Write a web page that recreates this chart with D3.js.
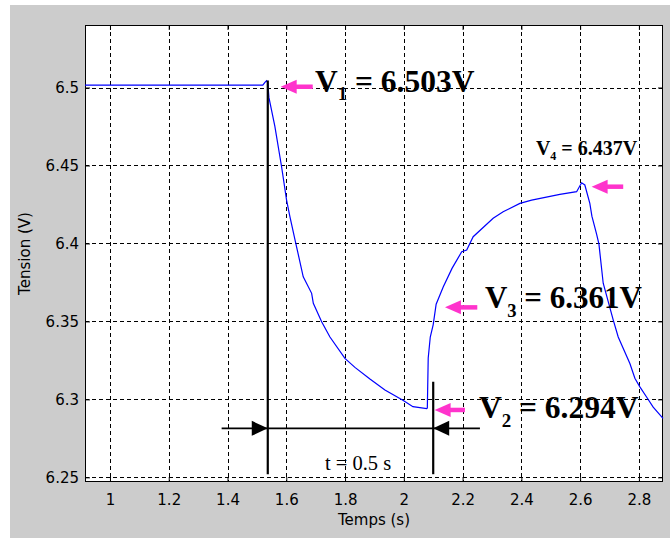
<!DOCTYPE html>
<html><head><meta charset="utf-8">
<script src="https://cdn.jsdelivr.net/npm/d3@7"></script>
<style>body{margin:0;background:#fff;}svg{display:block;}</style>
</head><body>
<script>
// ---- data ----
const timeValues = [0.915,1.520,1.528,1.533,1.537,1.541,1.561,1.584,1.601,1.6125,1.6295,1.6577,1.6863,1.692,1.7203,1.7486,1.7996,1.8336,1.8847,1.9357,1.9969,2.031,2.0776,2.080,2.083,2.090,2.100,2.110,2.134,2.164,2.197,2.214,2.236,2.304,2.338,2.395,2.435,2.531,2.588,2.605,2.616,2.633,2.640,2.656,2.664,2.6785,2.7125,2.7296,2.7693,2.7863,2.8033,2.8261,2.8486,2.882];
const tensionValues = [6.5015,6.5015,6.5035,6.5044,6.503,6.4935,6.4753,6.4492,6.4278,6.4171,6.4025,6.3786,6.368,6.3616,6.3498,6.340,6.3263,6.3205,6.313,6.306,6.2995,6.2953,6.2940,6.2945,6.3265,6.340,6.348,6.361,6.372,6.384,6.3947,6.3958,6.4043,6.4161,6.4203,6.4257,6.4278,6.4315,6.4332,6.4389,6.4375,6.4257,6.4175,6.406,6.3995,6.3745,6.351,6.340,6.323,6.3135,6.308,6.3015,6.295,6.2878];
const xTickValues = [1,1.2,1.4,1.6,1.8,2,2.2,2.4,2.6,2.8];
const yTickValues = [6.25,6.3,6.35,6.4,6.45,6.5];
const xLabel = "Temps (s)";
const yLabel = "Tension (V)";
// annotations (data coords)
const markerLines = [ {t:1.537, v0:6.5045, v1:6.252}, {t:2.100, v0:6.3113, v1:6.252} ];
const spanLine = {t0:1.380, t1:2.259, v:6.2814, a:1.537, b:2.100};
const spanText = {t:1.7315, v:6.2545, text:"t = 0.5 s"};
const pinkArrows = [
  {tip:1.581, tail:1.690, v:6.5005},
  {tip:2.639, tail:2.7466, v:6.4364},
  {tip:2.140, tail:2.250, v:6.359},
  {tip:2.1048, tail:2.208, v:6.2932}
];
const valueLabels = [
  {t:1.6975, v:6.4973, sub:"1", rest:" = 6.503V", size:31.5},
  {t:2.4495, v:6.4567, sub:"4", rest:" = 6.437V", size:20},
  {t:2.276, v:6.3583, sub:"3", rest:" = 6.361V", size:31},
  {t:2.2555, v:6.2878, sub:"2", rest:" = 6.294V", size:31.5}
];

// ---- layout ----
const W = 670, H = 539;
const L = 85, T = 25, R = 663, B = 482;
const svg = d3.select("body").append("svg").attr("width", W).attr("height", H);
svg.append("rect").attr("x",10).attr("y",5).attr("width",W-10).attr("height",533).attr("fill","#cccccc");
svg.append("rect").attr("x",L).attr("y",T).attr("width",R-L).attr("height",B-T).attr("fill","#fff");

const x = d3.scaleLinear().domain([0.915, 2.882]).range([L, R]);
const y = d3.scaleLinear().domain([6.247, 6.5401]).range([B, T]);

// grid
const g = svg.append("g");
g.selectAll(".gx").data(xTickValues).join("line")
  .attr("x1", d=>Math.round(x(d))+0.5).attr("x2", d=>Math.round(x(d))+0.5)
  .attr("y1", T).attr("y2", B).attr("stroke","#000").attr("stroke-dasharray","4,3");
g.selectAll(".gy").data(yTickValues).join("line")
  .attr("y1", d=>Math.round(y(d))+0.5).attr("y2", d=>Math.round(y(d))+0.5)
  .attr("x1", L).attr("x2", R).attr("stroke","#000").attr("stroke-dasharray","4,3");

// axes
const fontAxis = "DejaVu Sans";
const xAxis = d3.axisBottom(x).tickValues(xTickValues).tickSize(-5).tickPadding(12).tickFormat(d3.format("~g"));
const yAxis = d3.axisLeft(y).tickValues(yTickValues).tickSize(-5).tickPadding(6).tickFormat(d3.format("~g"));
const xa = svg.append("g").attr("transform",`translate(0,${B})`).call(xAxis);
const ya = svg.append("g").attr("transform",`translate(${L},0)`).call(yAxis);
// top/right ticks
svg.append("g").attr("transform",`translate(0,${T})`).call(d3.axisTop(x).tickValues(xTickValues).tickSize(-5).tickFormat(""));
svg.append("g").attr("transform",`translate(${R},0)`).call(d3.axisRight(y).tickValues(yTickValues).tickSize(-5).tickFormat(""));
svg.selectAll(".domain").remove();
svg.selectAll(".tick line").attr("stroke","#000");
svg.selectAll(".tick text").attr("font-family",fontAxis).attr("font-size",15).attr("fill","#000");
svg.append("rect").attr("x",L+0.5).attr("y",T+0.5).attr("width",R-L-1).attr("height",B-T-1).attr("fill","none").attr("stroke","#000");

svg.append("text").attr("x",(L+R)/2).attr("y",525).attr("text-anchor","middle")
  .attr("font-family",fontAxis).attr("font-size",15).text(xLabel);
svg.append("text").attr("transform",`translate(30,${(T+B)/2}) rotate(-90)`).attr("text-anchor","middle")
  .attr("font-family",fontAxis).attr("font-size",15).text(yLabel);

// curve
const pts = timeValues.map((t,i)=>[t, tensionValues[i]]);
svg.append("path").datum(pts)
  .attr("d", d3.line().x(d=>x(d[0])).y(d=>y(d[1])))
  .attr("fill","none").attr("stroke","#0000ff").attr("stroke-width",1.2);

// black marker lines
svg.selectAll(".ml").data(markerLines).join("line")
  .attr("x1",d=>x(d.t)).attr("x2",d=>x(d.t)).attr("y1",d=>y(d.v0)).attr("y2",d=>y(d.v1))
  .attr("stroke","#000").attr("stroke-width",2.2);
svg.append("line").attr("x1",x(spanLine.t0)).attr("x2",x(spanLine.t1))
  .attr("y1",y(spanLine.v)).attr("y2",y(spanLine.v)).attr("stroke","#000").attr("stroke-width",1.6);
// arrowheads
const ay = y(spanLine.v);
const ax1 = x(spanLine.a), ax2 = x(spanLine.b);
svg.append("path").attr("d",`M${ax1},${ay} L${ax1-16},${ay-7.5} L${ax1-16},${ay+7.5} Z`).attr("fill","#000");
svg.append("path").attr("d",`M${ax2},${ay} L${ax2+16},${ay-7.5} L${ax2+16},${ay+7.5} Z`).attr("fill","#000");
svg.append("text").attr("x",x(spanText.t)).attr("y",y(spanText.v))
  .attr("font-family","Liberation Serif").attr("font-size",20.5).text(spanText.text);

// pink arrows
const pink = "#ff33cc";
pinkArrows.forEach(a=>{
  const xt = x(a.tip), xe = x(a.tail), yy = y(a.v);
  svg.append("line").attr("x1",xt+12).attr("x2",xe).attr("y1",yy).attr("y2",yy)
    .attr("stroke",pink).attr("stroke-width",4.5);
  svg.append("path").attr("d",`M${xt},${yy} L${xt+16},${yy-7} L${xt+16},${yy+7} Z`).attr("fill",pink);
});

// value labels
valueLabels.forEach(l=>{
  const tx = svg.append("text").attr("x",x(l.t)).attr("y",y(l.v))
    .attr("font-family","Liberation Serif").attr("font-weight","bold").attr("font-size",l.size);
  tx.append("tspan").text("V");
  tx.append("tspan").attr("font-size",l.size*0.6).attr("dy",l.size*0.27).text(l.sub);
  tx.append("tspan").attr("dy",-l.size*0.27).text(l.rest);
});
</script>
</body></html>
